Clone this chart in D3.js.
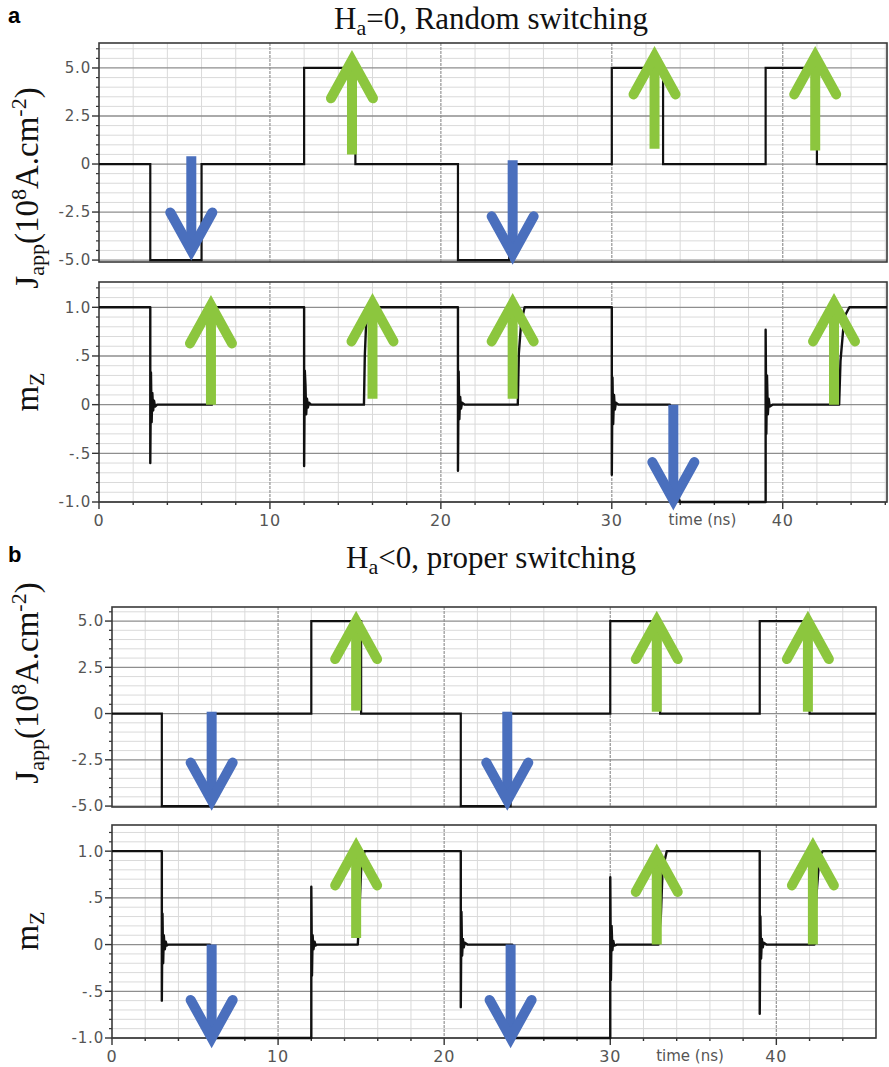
<!DOCTYPE html>
<html>
<head>
<meta charset="utf-8">
<script src="https://cdn.jsdelivr.net/npm/d3@7"></script>
<style>
  body { margin: 0; background: #fff; }
  svg { display: block; }
</style>
</head>
<body>
<svg id="chart" width="889" height="1067"></svg>
<script>
// ---- data ----
// applied current density J (1e8 A/cm2), step changes [time ns, value]
const jStepsA = [[0, 0], [3, -5], [6, 0], [12, 5], [15, 0], [21, -5], [24, 0], [30, 5], [33, 0], [39, 5], [42, 0], [46.1, 0]];
const jStepsB = [[0, 0], [3, -5], [6, 0], [12, 5], [15, 0], [21, -5], [24, 0], [30, 5], [33, 0], [39, 5], [42, 0], [46, 0]];

// mz traces [time ns, mz], ringing included
const mTraceA = [
  [0, 1], [3, 1], [3, -0.6], [3.04, 0.33], [3.08, -0.18], [3.12, 0.12], [3.17, -0.06], [3.22, 0.04], [3.28, -0.02], [3.4, 0],
  [6.6, 0], [6.62, 1],
  [12, 1], [12, -0.63], [12.04, 0.35], [12.08, 0.2], [12.12, -0.1], [12.17, 0.06], [12.22, -0.03], [12.28, 0.02], [12.4, 0],
  [15.5, 0], [15.55, 0.5], [15.62, 0.8], [15.72, 1],
  [21, 1], [21, -0.68], [21.04, 0.34], [21.08, -0.15], [21.13, 0.08], [21.18, -0.04], [21.24, 0.02], [21.4, 0],
  [24.5, 0], [24.56, 0.52], [24.7, 0.85], [24.9, 1],
  [30, 1], [30, -0.72], [30.04, 0.28], [30.08, -0.2], [30.13, 0.1], [30.18, -0.05], [30.24, 0.02], [30.4, 0],
  [33.4, 0], [33.75, -0.9], [34, -1],
  [39, -1], [39, 0.77], [39.04, -0.3], [39.08, 0.3], [39.13, -0.1], [39.18, 0.06], [39.24, -0.02], [39.4, 0],
  [43.3, 0], [43.38, 0.45], [43.6, 0.9], [43.9, 1], [46.1, 1]
];
const mTraceB = [
  [0, 1], [3, 1], [3, -0.6], [3.04, 0.33], [3.08, -0.2], [3.12, 0.1], [3.18, -0.05], [3.24, 0.03], [3.3, -0.01], [3.4, 0],
  [5.9, 0], [6, -1],
  [12, -1], [12, 0.62], [12.04, -0.33], [12.08, 0.1], [12.13, -0.05], [12.2, 0.03], [12.26, -0.01], [12.35, 0],
  [14.8, 0], [14.88, 0.3], [15, 0.8], [15.2, 1],
  [21, 1], [21, -0.67], [21.04, 0.35], [21.08, -0.12], [21.13, 0.06], [21.18, -0.03], [21.24, 0.02], [21.4, 0],
  [24.1, 0], [24.2, -1],
  [30, -1], [30, 0.72], [30.04, -0.38], [30.08, 0.2], [30.13, -0.06], [30.18, 0.04], [30.24, -0.01], [30.4, 0],
  [32.9, 0], [33.05, 0.32], [33.15, 0.8], [33.4, 1],
  [39, 1], [39, -0.74], [39.04, 0.3], [39.08, -0.15], [39.13, 0.06], [39.18, -0.03], [39.24, 0.02], [39.4, 0],
  [42.3, 0], [42.4, 0.5], [42.6, 0.95], [42.8, 1], [46, 1]
];

// annotation arrows [time ns, tail value, tip value]
const arrowsJA = [[5.4, 0.4, -4.5], [14.8, 0.5, 5.4], [24.2, 0.2, -4.7], [32.5, 0.8, 5.6], [41.9, 0.7, 5.6]];
const arrowsMA = [[6.55, 0, 1.02], [16.0, 0.06, 1.04], [24.2, 0.06, 1.04], [33.6, 0, -0.98], [43.0, 0, 1.04]];
const arrowsJB = [[6.0, 0.1, -4.7], [14.7, 0.16, 5.0], [23.8, 0.1, -4.7], [32.8, 0.1, 5.0], [41.9, 0.1, 5.0]];
const arrowsMB = [[6.0, 0, -1], [14.7, 0.07, 1.04], [24.0, 0, -1], [32.8, 0, 0.97], [42.2, 0, 1.04]];

// ticks
const jTicks = [-5, -2.5, 0, 2.5, 5];
const jTickLabels = ['-5.0', '-2.5', '0', '2.5', '5.0'];
const mTicks = [-1, -0.5, 0, 0.5, 1];
const mTickLabels = ['-1.0', '-.5', '0', '.5', '1.0'];
const xTicks = [0, 10, 20, 30, 40];

const GREEN = '#8cc63e';
const BLUE = '#4a6fbd';

// ---- layout ----
const panels = [
  {
    letter: 'a', titleTail: '=0, Random switching', titleY: 29,
    x0: 99, x1: 887, xMax: 46.1,
    J: { top: 43, bottom: 262, dom: [-5.1, 6.3], steps: jStepsA, arrows: arrowsJA, labelY: 188 },
    M: { top: 282, bottom: 502, dom: [-1, 1.26], trace: mTraceA, arrows: arrowsMA, labelY: 392 },
    timeAt: 35.3
  },
  {
    letter: 'b', titleTail: '<0, proper switching', titleY: 568,
    x0: 112, x1: 876, xMax: 46,
    J: { top: 607, bottom: 807, dom: [-5.05, 5.76], steps: jStepsB, arrows: arrowsJB, labelY: 683 },
    M: { top: 825, bottom: 1038, dom: [-1, 1.28], trace: mTraceB, arrows: arrowsMB, labelY: 931 },
    timeAt: 34.8
  }
];

const svg = d3.select('#chart');
svg.append('rect').attr('width', 889).attr('height', 1067).attr('fill', '#fff');

const tickFont = 'Verdana, "DejaVu Sans", sans-serif';
const serif = '"Liberation Serif", "Times New Roman", serif';

function drawFrame(g, x, y, xMax, minorY, majorY, labels, withX) {
  const [x0, x1] = x.range();
  const [yb, yt] = y.range();

  // minor grid
  g.append('g').selectAll('line')
    .data(d3.range(2, xMax, 2).filter(v => v % 10 !== 0))
    .join('line')
    .attr('x1', d => x(d)).attr('x2', d => x(d))
    .attr('y1', yt).attr('y2', yb)
    .attr('stroke', '#dadada').attr('stroke-width', 1);

  g.append('g').selectAll('line')
    .data(minorY)
    .join('line')
    .attr('x1', x0).attr('x2', x1)
    .attr('y1', d => y(d)).attr('y2', d => y(d))
    .attr('stroke', '#dadada').attr('stroke-width', 1);

  // major grid
  g.append('g').selectAll('line')
    .data(xTicks.filter(v => v > 0))
    .join('line')
    .attr('x1', d => x(d)).attr('x2', d => x(d))
    .attr('y1', yt).attr('y2', yb)
    .attr('stroke', '#9c9c9c').attr('stroke-width', 1.3)
    .attr('stroke-dasharray', '3,1');

  g.append('g').selectAll('line')
    .data(majorY)
    .join('line')
    .attr('x1', x0).attr('x2', x1)
    .attr('y1', d => y(d)).attr('y2', d => y(d))
    .attr('stroke', '#8e8e8e').attr('stroke-width', 1.3);

  // left ticks
  g.append('g').selectAll('line')
    .data(minorY)
    .join('line')
    .attr('x1', x0 - 3).attr('x2', x0)
    .attr('y1', d => y(d)).attr('y2', d => y(d))
    .attr('stroke', '#333').attr('stroke-width', 1.2);
  g.append('g').selectAll('line')
    .data(majorY)
    .join('line')
    .attr('x1', x0 - 7).attr('x2', x0)
    .attr('y1', d => y(d)).attr('y2', d => y(d))
    .attr('stroke', '#333').attr('stroke-width', 1.4);

  g.append('g').selectAll('text')
    .data(majorY)
    .join('text')
    .attr('x', x0 - 8)
    .attr('y', d => y(d))
    .attr('dy', '0.36em')
    .attr('text-anchor', 'end')
    .attr('font-family', tickFont)
    .attr('font-size', 15)
    .attr('letter-spacing', 0.8)
    .attr('fill', '#555')
    .text((d, i) => labels[i]);

  if (withX) {
    g.append('g').selectAll('line')
      .data(d3.range(0, xMax, 2))
      .join('line')
      .attr('x1', d => x(d)).attr('x2', d => x(d))
      .attr('y1', yb).attr('y2', d => yb + (d % 10 === 0 ? 7 : 3))
      .attr('stroke', '#333').attr('stroke-width', 1.4);
    g.append('g').selectAll('text')
      .data(xTicks)
      .join('text')
      .attr('x', d => x(d))
      .attr('y', yb + 24)
      .attr('text-anchor', 'middle')
      .attr('font-family', tickFont)
      .attr('font-size', 16)
      .attr('letter-spacing', 0.8)
      .attr('fill', '#555')
      .text(d => d);
  }

  // frame
  g.append('rect')
    .attr('x', x0).attr('y', yt)
    .attr('width', x1 - x0).attr('height', yb - yt)
    .attr('fill', 'none')
    .attr('stroke', '#3a3a3a').attr('stroke-width', 1.6);
}

function drawArrows(g, x, y, arrows) {
  const headW = 21, headH = 38;
  arrows.forEach(([t, from, to]) => {
    const up = to > from;
    const cx = x(t);
    const tail = y(from), tip = y(to);
    const col = up ? GREEN : BLUE;
    const dir = up ? 1 : -1;
    g.append('line')
      .attr('x1', cx).attr('x2', cx)
      .attr('y1', tail).attr('y2', tip + dir * 6)
      .attr('stroke', col).attr('stroke-width', 10);
    g.append('path')
      .attr('d', d3.line()([[cx - headW, tip + dir * headH], [cx, tip], [cx + headW, tip + dir * headH]]))
      .attr('fill', 'none')
      .attr('stroke', col).attr('stroke-width', 10)
      .attr('stroke-linecap', 'round')
      .attr('stroke-linejoin', 'miter')
      .attr('stroke-miterlimit', 10);
  });
}

panels.forEach(p => {
  const g = svg.append('g');
  const x = d3.scaleLinear().domain([0, p.xMax]).range([p.x0, p.x1]);

  // panel letter and title
  g.append('text')
    .attr('x', 8).attr('y', p.titleY - 6)
    .attr('font-family', 'Arial, "Liberation Sans", sans-serif')
    .attr('font-weight', 'bold')
    .attr('font-size', 22)
    .text(p.letter);

  const title = g.append('text')
    .attr('x', 491).attr('y', p.titleY)
    .attr('text-anchor', 'middle')
    .attr('font-family', serif)
    .attr('font-size', 31)
    .attr('fill', '#111');
  title.append('tspan').text('H');
  title.append('tspan').attr('font-size', 22).attr('dy', 6).text('a');
  title.append('tspan').attr('dy', -6).text(p.titleTail);

  // J panel
  const yJ = d3.scaleLinear().domain(p.J.dom).range([p.J.bottom, p.J.top]);
  const gJ = g.append('g');
  drawFrame(gJ, x, yJ, p.xMax,
    d3.range(-50, p.J.dom[1] * 10, 5).map(v => v / 10).filter(v => !jTicks.includes(v)),
    jTicks, jTickLabels, false);
  gJ.append('path')
    .datum(p.J.steps)
    .attr('d', d3.line().x(d => x(d[0])).y(d => yJ(d[1])).curve(d3.curveStepAfter))
    .attr('fill', 'none')
    .attr('stroke', '#111').attr('stroke-width', 2.2);
  drawArrows(gJ, x, yJ, p.J.arrows);

  const jl = g.append('text')
    .attr('transform', `translate(38,${p.J.labelY}) rotate(-90)`)
    .attr('text-anchor', 'middle')
    .attr('font-family', serif)
    .attr('font-size', 33)
    .attr('fill', '#111');
  jl.append('tspan').text('J');
  jl.append('tspan').attr('font-size', 22).attr('dy', 6).text('app');
  jl.append('tspan').attr('dy', -6).text('(10');
  jl.append('tspan').attr('font-size', 22).attr('dy', -12).text('8');
  jl.append('tspan').attr('dy', 12).text('A.cm');
  jl.append('tspan').attr('font-size', 22).attr('dy', -12).text('-2');
  jl.append('tspan').attr('dy', 12).text(')');

  // mz panel
  const yM = d3.scaleLinear().domain(p.M.dom).range([p.M.bottom, p.M.top]);
  const gM = g.append('g');
  drawFrame(gM, x, yM, p.xMax,
    d3.range(-10, p.M.dom[1] * 10, 1).map(v => v / 10).filter(v => !mTicks.includes(v)),
    mTicks, mTickLabels, true);
  gM.append('path')
    .datum(p.M.trace)
    .attr('d', d3.line().x(d => x(d[0])).y(d => yM(d[1])))
    .attr('fill', 'none')
    .attr('stroke', '#111').attr('stroke-width', 2.4)
    .attr('stroke-linejoin', 'round');
  drawArrows(gM, x, yM, p.M.arrows);

  const ml = g.append('text')
    .attr('transform', `translate(38,${p.M.labelY}) rotate(-90)`)
    .attr('text-anchor', 'middle')
    .attr('font-family', serif)
    .attr('font-size', 33)
    .attr('fill', '#111');
  ml.append('tspan').text('m');
  ml.append('tspan').attr('font-size', 22).attr('dy', 6).text('Z');

  g.append('text')
    .attr('x', x(p.timeAt))
    .attr('y', p.M.bottom + 23)
    .attr('text-anchor', 'middle')
    .attr('font-family', tickFont)
    .attr('font-size', 15)
    .attr('fill', '#555')
    .text('time (ns)');
});
</script>
</body>
</html>
